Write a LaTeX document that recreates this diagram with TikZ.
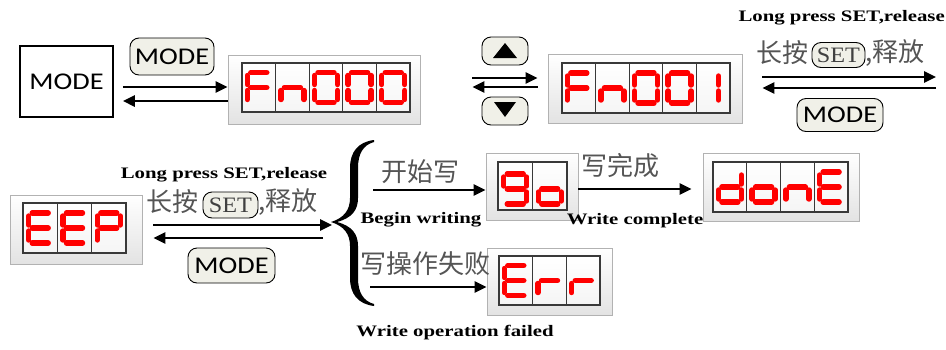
\documentclass[tikz,border=0pt]{standalone}
\usepackage{fontspec}
\usetikzlibrary{arrows.meta}
\newfontfamily\cjk{Noto Sans CJK SC}
\newfontfamily\eng[FakeStretch=1.3]{Liberation Serif}
\newfontfamily\setfont[FakeStretch=1.1]{Liberation Serif}
\newfontfamily\sansf[FakeStretch=1.18]{Carlito}
\definecolor{btnfill}{RGB}{240,240,232}
\definecolor{cngray}{RGB}{85,85,85}
\def\sgpa{(-8,-15) -- (8,-15)}
\def\sgpb{(11.5,-12) -- (11.5,-3)}
\def\sgpc{(11.5,3) -- (11.5,12)}
\def\sgpd{(-8,15) -- (8,15)}
\def\sgpe{(-11.5,3) -- (-11.5,12)}
\def\sgpf{(-11.5,-12) -- (-11.5,-3)}
\def\sgpg{(-8,0) -- (8,0)}
\newcommand\sdigit[3]{%
  \begin{scope}[shift={(#1,#2)}]
    \foreach \s in {#3}{\expandafter\let\expandafter\cursp\csname sgp\s\endcsname \draw[seg] \cursp;}
  \end{scope}}
\newcommand\cells[5]{%
  \draw[cellbox] (#1,#2) rectangle (#3,#4);
  \foreach \xx in {#5}{\draw[cellline] (\xx,#2) -- (\xx,#4);}}
\begin{document}
\begin{tikzpicture}[x=1pt,y=-1pt,
  disp/.style={draw=gray!60, line width=0.8pt, top color=white, bottom color=gray!22, rectangle, inner sep=0pt},
  cellbox/.style={draw=gray!45!black, line width=1.1pt, top color=white, bottom color=gray!8},
  cellline/.style={draw=gray!45!black, line width=1.1pt},
  seg/.style={red, line width=5.4pt, line cap=round},
  btn/.style={draw=black, line width=0.9pt, rounded corners=9pt, fill=btnfill, inner sep=0pt},
  arr/.style={line width=2.6pt, -{Triangle[length=12pt,width=11pt]}},
  cn/.style={font=\cjk\fontsize{26}{26}\selectfont, text=cngray, inner sep=0pt},
  en/.style={font=\eng\bfseries\fontsize{16}{16}\selectfont, inner sep=0pt},
  modet/.style={font=\sansf\fontsize{24}{24}\selectfont},
  sett/.style={font=\setfont\fontsize{22}{22}\selectfont, text=black!75},
  tri/.style={fill=black}
]
\useasboundingbox (0,0) rectangle (946,349);

% ---------- top row ----------
\node[draw, line width=1.6pt, minimum width=93pt, minimum height=71pt, modet, inner sep=0pt] (modebox) at (66.5,81.5) {MODE};
\node[btn, minimum width=84pt, minimum height=37pt, modet] (modebtn1) at (172,56.5) {MODE};

\node[disp, minimum width=192pt, minimum height=69pt] (fn0) at (324,89.5) {};
\cells{242}{63}{410}{112}{275.6,309.2,342.8,376.4}
\sdigit{258.8}{87.5}{a,e,f,g}
\sdigit{292.4}{87.5}{c,e,g}
\sdigit{326}{87.5}{a,b,c,d,e,f}
\sdigit{359.6}{87.5}{a,b,c,d,e,f}
\sdigit{393.2}{87.5}{a,b,c,d,e,f}

\draw[arr] ([xshift=9pt,yshift=-5.5pt]modebox.east) -- ([yshift=2.5pt]fn0.west);
\draw[arr] ([yshift=-11.5pt]fn0.west) -- ([xshift=9pt,yshift=-19.5pt]modebox.east);

\node[btn, minimum width=46pt, minimum height=28pt] (upbtn) at (505,51) {};
\node[btn, minimum width=46pt, minimum height=28pt] (downbtn) at (505,111) {};
\fill[tri] (505,43) -- (517,58) -- (493,58) -- cycle;
\fill[tri] (505,117) -- (516,102) -- (494,102) -- cycle;

\node[disp, minimum width=194pt, minimum height=69pt] (fn1) at (645,88.5) {};
\cells{562}{63}{730}{113}{595.6,629.2,662.8,696.4}
\sdigit{578.8}{88}{a,e,f,g}
\sdigit{612.4}{88}{c,e,g}
\sdigit{646}{88}{a,b,c,d,e,f}
\sdigit{679.6}{88}{a,b,c,d,e,f}
\sdigit{707}{88}{b,c}

\draw[arr] ([xshift=52pt,yshift=11.5pt]fn0.east) -- ([xshift=-10pt,yshift=10.5pt]fn1.west);
\draw[arr] ([xshift=-10pt,yshift=1.5pt]fn1.west) -- ([xshift=52pt,yshift=2.5pt]fn0.east);

\node[en, anchor=east] (lp1) at (945,18) {Long press SET,release};
\node[cn, anchor=west] (cn1a) at (756,53) {长按};
\node[btn, minimum width=53pt, minimum height=25pt, sett] (set1) at (838.5,55) {SET};
\node[cn, anchor=west] (cn1b) at (865,53) {,释放};
\coordinate (tr1) at (936,77);
\coordinate (tr2) at (936,88);
\draw[arr] ([xshift=20pt,yshift=11.5pt]fn1.east) -- (tr1);
\draw[arr] (tr2) -- ([xshift=20pt,yshift=0.5pt]fn1.east);
\node[btn, minimum width=86pt, minimum height=33pt, modet] (modebtn2) at (840,115) {MODE};

% ---------- bottom row ----------
\node[disp, minimum width=132pt, minimum height=69pt] (eep) at (76,229.5) {};
\cells{23}{203}{126}{253}{57.3,91.7}
\sdigit{40.2}{228}{a,d,e,f,g}
\sdigit{74.5}{228}{a,d,e,f,g}
\sdigit{108.8}{228}{a,b,e,f,g}

\node[en] (lp2) at (224,175) {Long press SET,release};
\node[cn, anchor=west] (cn2a) at (146,202) {长按};
\node[btn, minimum width=55pt, minimum height=26pt, sett] (set2) at (230.5,205) {SET};
\node[cn, anchor=west] (cn2b) at (258,202) {,释放};
\node[btn, minimum width=87pt, minimum height=35pt, modet] (modebtn3) at (231.5,265.5) {MODE};

% brace
\fill (374,140) .. controls (358,142) and (350,152) .. (350,168) -- (350,198)
  .. controls (350,210) and (344,218) .. (331,222)
  .. controls (344,226) and (350,234) .. (350,246) -- (350,278)
  .. controls (350,294) and (358,304) .. (374,306)
  -- (374,304) .. controls (363,301) and (358,292) .. (358,278) -- (358,246)
  .. controls (358,234) and (352,226) .. (337,222)
  .. controls (352,218) and (358,210) .. (358,198) -- (358,168)
  .. controls (358,154) and (363,145) .. (374,142) -- cycle;
\coordinate (btip) at (332,225);
\coordinate (btip2) at (323,238);

\draw[arr] ([xshift=11pt,yshift=4.5pt]eep.east) -- (btip);
\draw[arr] (btip2) -- ([xshift=11pt,yshift=-8.5pt]eep.east);

\node[disp, minimum width=92pt, minimum height=67pt] (go) at (532,186.5) {};
\cells{498}{162}{567}{210}{532.5}
\sdigit{515.25}{189}{a,b,c,d,f,g}
\sdigit{549.75}{189}{c,d,e,g}

\node[disp, minimum width=156pt, minimum height=68pt] (done) at (781,187) {};
\cells{713}{162}{848}{212}{746.75,780.5,814.25}
\sdigit{729.9}{187}{b,c,d,e,g}
\sdigit{763.6}{187}{c,d,e,g}
\sdigit{797.4}{187}{c,e,g}
\sdigit{831.1}{187}{a,d,e,f,g}

\node[disp, minimum width=125pt, minimum height=67pt] (err) at (549.5,281.5) {};
\cells{499}{256}{600}{305}{532.7,566.3}
\sdigit{515.8}{280.5}{a,d,e,f,g}
\sdigit{549.5}{280.5}{e,g}
\sdigit{583.2}{280.5}{e,g}

\coordinate (bs1) at (373,190);
\coordinate (bs2) at (370,287);
\draw[arr] (bs1) -- ([yshift=-3.5pt]go.west);
\draw[arr] (bs2) -- ([yshift=-5.5pt]err.west);
\draw[arr] ([yshift=-2.5pt]go.east) -- ([xshift=-11pt,yshift=-2pt]done.west);

\node[cn] (cnbegin) at (420,172) {开始写};
\node[en] (enbegin) at (421,220) {Begin writing};
\node[cn] (cnfail) at (425,264) {写操作失败};
\node[en] (enfail) at (455,333) {Write operation failed};
\node[cn] (cndone) at (620,166) {写完成};
\node[en] (endone) at (635,221) {Write complete};
\end{tikzpicture}
\end{document}
